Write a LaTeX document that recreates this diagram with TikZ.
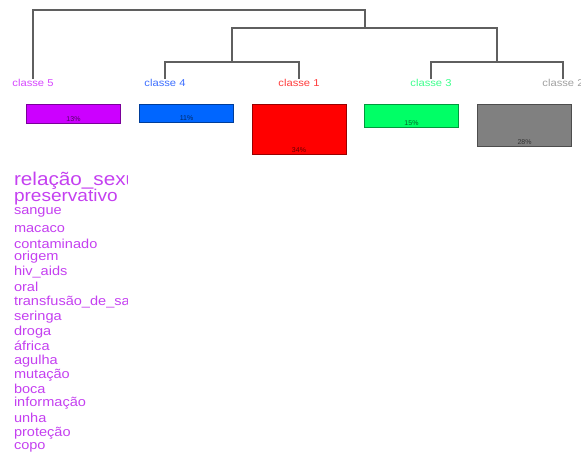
\documentclass[tikz,border=0pt]{standalone}
\usepackage{fontspec}
\setmainfont{Liberation Sans}
\newfontfamily\wordfont{Liberation Sans}[FakeStretch=1.12]
\definecolor{dendgray}{RGB}{95,95,95}
\definecolor{cl5}{RGB}{204,0,255}
\definecolor{cl4}{RGB}{0,102,255}
\definecolor{cl1}{RGB}{255,0,0}
\definecolor{cl3}{RGB}{0,255,102}
\definecolor{cl2}{RGB}{128,128,128}
\definecolor{lbl5}{RGB}{214,70,255}
\definecolor{lbl4}{RGB}{60,110,255}
\definecolor{lbl1}{RGB}{255,60,60}
\definecolor{lbl3}{RGB}{60,255,140}
\definecolor{lbl2}{RGB}{160,160,160}
\definecolor{wordcol}{RGB}{196,64,240}
\begin{document}
\begin{tikzpicture}[x=1pt,y=-1pt]
\tikzstyle{every node}+=[inner sep=0pt, outer sep=0pt]
\tikzstyle{branch}=[draw=dendgray, line width=1.4pt]
\tikzstyle{classlbl}=[anchor=north, font=\wordfont\fontsize{10}{10}\selectfont]
\tikzstyle{bar}=[line width=0.8pt, anchor=north, minimum width=94pt]
\tikzstyle{pct}=[anchor=south, yshift=1pt, font=\fontsize{7}{7}\selectfont]
\tikzstyle{bigword}=[anchor=base west, text=wordcol, font=\wordfont\fontsize{17}{17}\selectfont]
\tikzstyle{word}=[anchor=base west, text=wordcol, font=\wordfont\fontsize{13}{13}\selectfont]
\useasboundingbox (0,0) rectangle (581,454);
\node[classlbl, text=lbl5] (c5) at (33,79) {classe 5};
\node[classlbl, text=lbl4] (c4) at (165,79) {classe 4};
\node[classlbl, text=lbl1] (c1) at (299,79) {classe 1};
\node[classlbl, text=lbl3] (c3) at (431,79) {classe 3};
\node[classlbl, text=lbl2] (c2) at (563,79) {classe 2};
\coordinate (j41) at (232,62);
\coordinate (j32) at (497,62);
\coordinate (j4132) at (365,28);
\coordinate (root) at (198,10);
\draw[branch] (c4.north) |- (j41) -| (c1.north);
\draw[branch] (c3.north) |- (j32) -| (c2.north);
\draw[branch] (j41) |- (j4132) -| (j32);
\draw[branch] (c5.north) |- (root) -| (j4132);
\node[bar, fill=cl5, draw=cl5!60!black, minimum height=19pt] (b5) at (73.5,104) {};
\node[bar, fill=cl4, draw=cl4!60!black, minimum height=18pt] (b4) at (186.5,104) {};
\node[bar, fill=cl1, draw=cl1!60!black, minimum height=50pt] (b1) at (299,104) {};
\node[bar, fill=cl3, draw=cl3!60!black, minimum height=23pt] (b3) at (411.5,104) {};
\node[bar, fill=cl2, draw=cl2!60!black, minimum height=42pt] (b2) at (524.5,104) {};
\node[pct, text=cl5!40!black] (p5) at (b5.south) {13\%};
\node[pct, text=cl4!40!black] (p4) at (b4.south) {11\%};
\node[pct, text=cl1!40!black] (p1) at (b1.south) {34\%};
\node[pct, text=cl3!40!black] (p3) at (b3.south) {15\%};
\node[pct, text=cl2!40!black] (p2) at (b2.south) {28\%};
\begin{scope}
\clip (0,160) rectangle (127,454);
\node[bigword, font=\wordfont\fontsize{18.5}{18.5}\selectfont] (w1) at (14,186) {relação\_sexual};
\node[bigword] (w2) at (14,202) {preservativo};
\foreach \w/\y [count=\i from 3] in {sangue/215, macaco/233, contaminado/249, origem/261, hiv\_aids/276, oral/292, transfusão\_de\_sangue/306, seringa/321, droga/336, áfrica/350, agulha/364, mutação/378, boca/393, informação/406, unha/422, proteção/436, copo/449}
  \node[word] (w\i) at (14,\y) {\w};
\end{scope}
\end{tikzpicture}
\end{document}
